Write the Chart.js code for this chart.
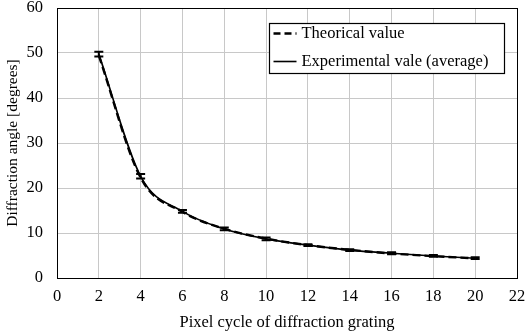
<!DOCTYPE html>
<html>
<head>
<meta charset="utf-8">
<script src="https://cdn.jsdelivr.net/npm/chart.js@4.4.1/dist/chart.umd.min.js"></script>
<style>
  html, body { margin: 0; padding: 0; background: #fff; }
  #wrap { width: 526px; height: 333px; }
</style>
</head>
<body>
<div id="wrap"><canvas id="diffChart" width="526" height="333"></canvas></div>
<script>
// pixel cycle of the grating
const cycles = [2, 4, 6, 8, 10, 12, 14, 16, 18, 20];
// theoretical diffraction angle (deg)
const theory = [49.4, 22.3, 14.7, 10.95, 8.75, 7.3, 6.25, 5.45, 4.85, 4.37];
// measured average (deg) and its spread
const measured = [49.75, 22.6, 14.8, 10.9, 8.7, 7.3, 6.2, 5.5, 4.9, 4.4];
const errors = [0.55, 0.5, 0.3, 0.3, 0.3, 0.2, 0.2, 0.2, 0.2, 0.2];

const FONT = "'Liberation Serif', 'Times New Roman', serif";

const toPoints = (xs, ys) => xs.map((x, i) => ({ x: x, y: ys[i] }));

// error bars for the measured series, through the chart scales
const errorBars = {
  id: 'errorBars',
  afterDatasetsDraw(chart) {
    const { ctx, scales: { x, y } } = chart;
    ctx.save();
    ctx.strokeStyle = '#000';
    ctx.lineWidth = 2;
    cycles.forEach((c, i) => {
      const px = x.getPixelForValue(c);
      const top = y.getPixelForValue(measured[i] + errors[i]);
      const bot = y.getPixelForValue(measured[i] - errors[i]);
      ctx.beginPath();
      ctx.moveTo(px, top); ctx.lineTo(px, bot);
      ctx.moveTo(px - 4.5, top); ctx.lineTo(px + 4.5, top);
      ctx.moveTo(px - 4.5, bot); ctx.lineTo(px + 4.5, bot);
      ctx.stroke();
    });
    ctx.restore();
  }
};

// frame round the plot area and the boxed legend inside it
const frameAndLegend = {
  id: 'frameAndLegend',
  afterDraw(chart) {
    const { ctx, chartArea: a } = chart;
    ctx.save();
    ctx.strokeStyle = '#000';
    ctx.lineWidth = 1;
    ctx.strokeRect(a.left + 0.5, a.top + 0.5, a.right - a.left, a.bottom - a.top);

    const bx = 269.5, by = 23.5, bw = 235, bh = 50;
    ctx.fillStyle = '#fff';
    ctx.fillRect(bx, by, bw, bh);
    ctx.lineWidth = 1.2;
    ctx.strokeRect(bx, by, bw, bh);

    ctx.font = '16.5px ' + FONT;
    ctx.fillStyle = '#000';
    ctx.textBaseline = 'middle';
    chart.data.datasets.forEach((ds, i) => {
      const ly = by + 10 + i * 28;
      ctx.beginPath();
      ctx.lineWidth = ds.borderWidth;
      ctx.setLineDash(ds.borderDash ? [7, 4] : []);
      ctx.moveTo(bx + 4, ly);
      ctx.lineTo(bx + 27, ly);
      ctx.stroke();
      ctx.setLineDash([]);
      ctx.fillText(ds.label, bx + 32, ly);
    });
    ctx.restore();
  }
};

new Chart(document.getElementById('diffChart').getContext('2d'), {
  type: 'line',
  data: {
    datasets: [
      {
        label: 'Theorical value',
        data: toPoints(cycles, theory),
        borderColor: '#000',
        borderWidth: 2.4,
        borderDash: [8, 4],
        pointRadius: 0,
        cubicInterpolationMode: 'monotone',
        fill: false,
        order: 0
      },
      {
        label: 'Experimental vale (average)',
        data: toPoints(cycles, measured),
        borderColor: '#000',
        borderWidth: 1.6,
        pointRadius: 0,
        cubicInterpolationMode: 'monotone',
        fill: false,
        order: 1
      }
    ]
  },
  options: {
    responsive: false,
    animation: false,
    layout: { padding: { top: 8, right: 9, left: 0, bottom: 0 } },
    plugins: {
      legend: { display: false },
      tooltip: { enabled: false }
    },
    scales: {
      x: {
        type: 'linear',
        min: 0,
        max: 22,
        ticks: { stepSize: 2, color: '#000', font: { family: FONT, size: 16.5 }, padding: 9 },
        grid: { color: '#c8c8c8', drawTicks: false },
        border: { color: '#000' },
        title: {
          display: true,
          text: 'Pixel cycle of diffraction grating',
          color: '#000',
          font: { family: FONT, size: 16.5 },
          padding: { top: 4, bottom: 0 }
        },
        afterFit(scale) {
          scale.height = 55;
          scale.paddingLeft = 0;
          scale.paddingRight = 0;
        }
      },
      y: {
        min: 0,
        max: 60,
        ticks: { stepSize: 10, color: '#000', font: { family: FONT, size: 16.5 }, padding: 14 },
        grid: { color: '#c8c8c8', drawTicks: false },
        border: { color: '#000' },
        title: {
          display: true,
          text: 'Diffraction angle [degrees]',
          color: '#000',
          font: { family: FONT, size: 15.5 },
          padding: { bottom: 0 }
        },
        afterFit(scale) {
          scale.width = 57;
          scale.paddingTop = 0;
          scale.paddingBottom = 0;
        }
      }
    }
  },
  plugins: [errorBars, frameAndLegend]
});
</script>
</body>
</html>
